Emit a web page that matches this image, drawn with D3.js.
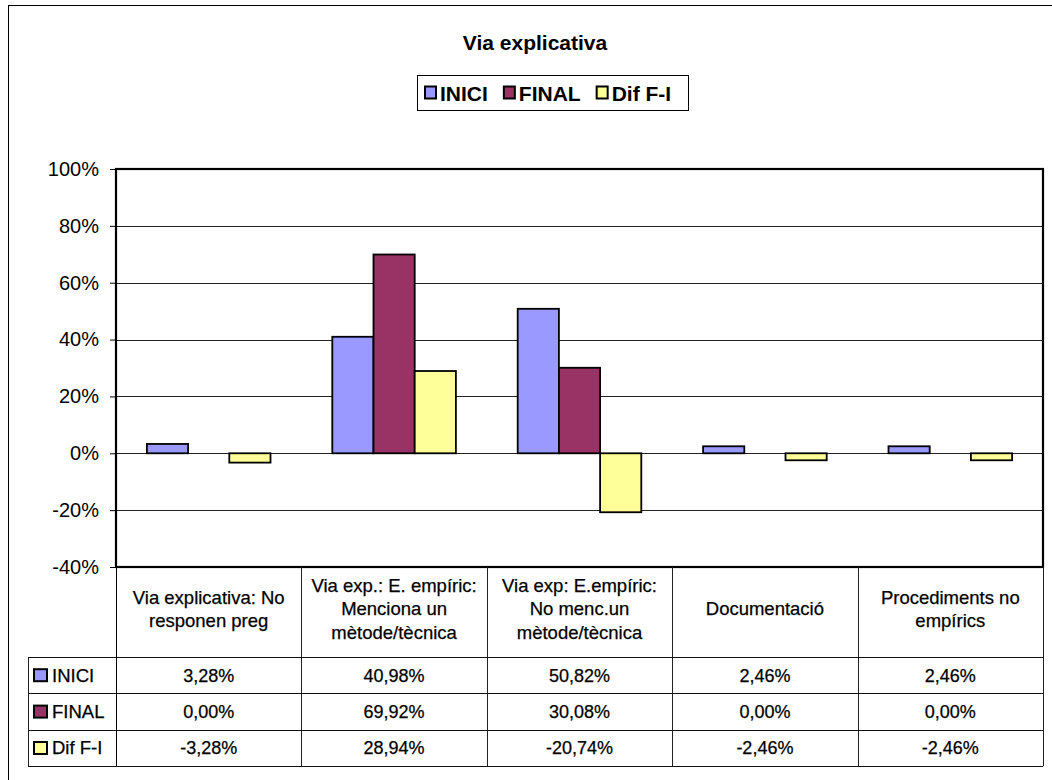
<!DOCTYPE html>
<html><head><meta charset="utf-8">
<script src="https://cdn.jsdelivr.net/npm/d3@7"></script>
<style>
html,body{margin:0;padding:0;background:#fff;}
svg text{font-family:"Liberation Sans",Arial,sans-serif;fill:#000;}
</style></head>
<body><svg id="c" width="1052" height="780"></svg>
<script>
const title = "Via explicativa";
const categories = [
  ["Via explicativa: No","responen preg"],
  ["Via exp.: E. empíric:","Menciona un","mètode/tècnica"],
  ["Via exp: E.empíric:","No menc.un","mètode/tècnica"],
  ["Documentació"],
  ["Procediments no","empírics"]
];
const seriesNames = ["INICI","FINAL","Dif F-I"];
const seriesColors = ["#9999FF","#993366","#FFFF99"];
const inici = [3.28, 40.98, 50.82, 2.46, 2.46];
const final = [0.00, 69.92, 30.08, 0.00, 0.00];
const dif   = [-3.28, 28.94, -20.74, -2.46, -2.46];
const yTicks = [-40,-20,0,20,40,60,80,100];

const series = [inici, final, dif];
const svg = d3.select("#c");

// outer frame
svg.append("rect").attr("x",8.5).attr("y",5.5).attr("width",1100).attr("height",900)
  .attr("fill","#fff").attr("stroke","#000").attr("stroke-width",1);

const L = 116, R = 1043, T = 169, B = 567;
const y = d3.scaleLinear().domain([-40,100]).range([B,T]);
const x = d3.scaleBand().domain(d3.range(categories.length)).range([L,R]).paddingInner(0).paddingOuter(0);
const bw = x.bandwidth()/4.5;
const xs = d3.scaleBand().domain(d3.range(3)).range([0.75*bw, 3.75*bw]);

// title
svg.append("text").attr("x",535).attr("y",50).attr("text-anchor","middle")
  .style("font-weight","bold").style("font-size","21px").text(title);

// legend
const lg = svg.append("g");
lg.append("rect").attr("x",417.5).attr("y",75.5).attr("width",271).attr("height",35)
  .attr("fill","#fff").attr("stroke","#000");
let lx = 425;
seriesNames.forEach((n,i)=>{
  lg.append("rect").attr("x",lx).attr("y",86.5).attr("width",11).attr("height",12)
    .attr("fill",seriesColors[i]).attr("stroke","#000").attr("stroke-width",2);
  const t = lg.append("text").attr("x",lx+15).attr("y",100.5).style("font-weight","bold")
    .style("font-size","21px").text(n);
  lx += 15 + t.node().getComputedTextLength() + 16;
});

// gridlines
svg.append("g").selectAll("line").data(yTicks.filter(d=>d!==-40 && d!==100)).join("line")
  .attr("x1",L).attr("x2",R).attr("y1",d=>Math.round(y(d))+0.5).attr("y2",d=>Math.round(y(d))+0.5)
  .attr("stroke","#222").attr("stroke-width",1);

// y axis
const yAxis = d3.axisLeft(y).tickValues(yTicks).tickFormat(d=>d+"%").tickSize(6).tickPadding(11);
const ga = svg.append("g").attr("transform",`translate(${L},0)`).call(yAxis);
ga.select(".domain").remove();
ga.selectAll(".tick line").attr("stroke","#000");
ga.selectAll(".tick text").style("font-size","20px").style("font-family","'Liberation Sans',Arial,sans-serif").attr("fill","#000");

// bars
series.forEach((vals,si)=>{
  svg.append("g").selectAll("rect").data(vals).join("rect")
    .attr("x",(d,i)=>x(i)+xs(si))
    .attr("width",xs.bandwidth())
    .attr("y",d=>y(Math.max(0,d)))
    .attr("height",d=>Math.abs(y(d)-y(0)))
    .attr("fill",seriesColors[si]).attr("stroke","#000").attr("stroke-width",1.8);
});

// plot border
svg.append("rect").attr("x",L).attr("y",T).attr("width",R-L).attr("height",B-T)
  .attr("fill","none").attr("stroke","#000").attr("stroke-width",2.2);

// data table
const hB = 657, rowH = 36.4;
const tl = svg.append("g");
x.domain().forEach(i=>{
  tl.append("line").attr("x1",Math.round(x(i)+x.bandwidth())+0.5).attr("x2",Math.round(x(i)+x.bandwidth())+0.5)
    .attr("y1",B).attr("y2",hB+3*rowH).attr("stroke","#222");
});
tl.append("line").attr("x1",L+0.5).attr("x2",L+0.5).attr("y1",B).attr("y2",hB+3*rowH).attr("stroke","#000");
tl.append("line").attr("x1",28.5).attr("x2",28.5).attr("y1",hB).attr("y2",hB+3*rowH).attr("stroke","#222");
for(let r=0;r<=3;r++){
  tl.append("line").attr("x1",28).attr("x2",R).attr("y1",Math.round(hB+r*rowH)+0.5).attr("y2",Math.round(hB+r*rowH)+0.5)
    .attr("stroke","#111");
}
const heavy = sel => sel.attr("stroke","#000").attr("stroke-width",0.25);
categories.forEach((lines,i)=>{
  const cx = x(i)+x.bandwidth()/2;
  const lh = 23.5, cy = 609;
  lines.forEach((s,k)=>{
    heavy(tl.append("text").attr("x",cx).attr("y",cy+(k-(lines.length-1)/2)*lh)
      .attr("dy","0.35em").attr("text-anchor","middle").style("font-size","18.5px").text(s));
  });
});
const fmt = v => v.toFixed(2).replace(".",",")+"%";
series.forEach((vals,si)=>{
  const cy = hB + si*rowH + rowH/2;
  tl.append("rect").attr("x",34).attr("y",cy-6).attr("width",13).attr("height",12)
    .attr("fill",seriesColors[si]).attr("stroke","#000").attr("stroke-width",2);
  heavy(tl.append("text").attr("x",52).attr("y",cy).attr("dy","0.35em").style("font-size","18.5px").text(seriesNames[si]));
  vals.forEach((v,i)=>{
    heavy(tl.append("text").attr("x",x(i)+x.bandwidth()/2).attr("y",cy).attr("dy","0.35em")
      .attr("text-anchor","middle").style("font-size","18px").text(fmt(v)));
  });
});
</script></body></html>
